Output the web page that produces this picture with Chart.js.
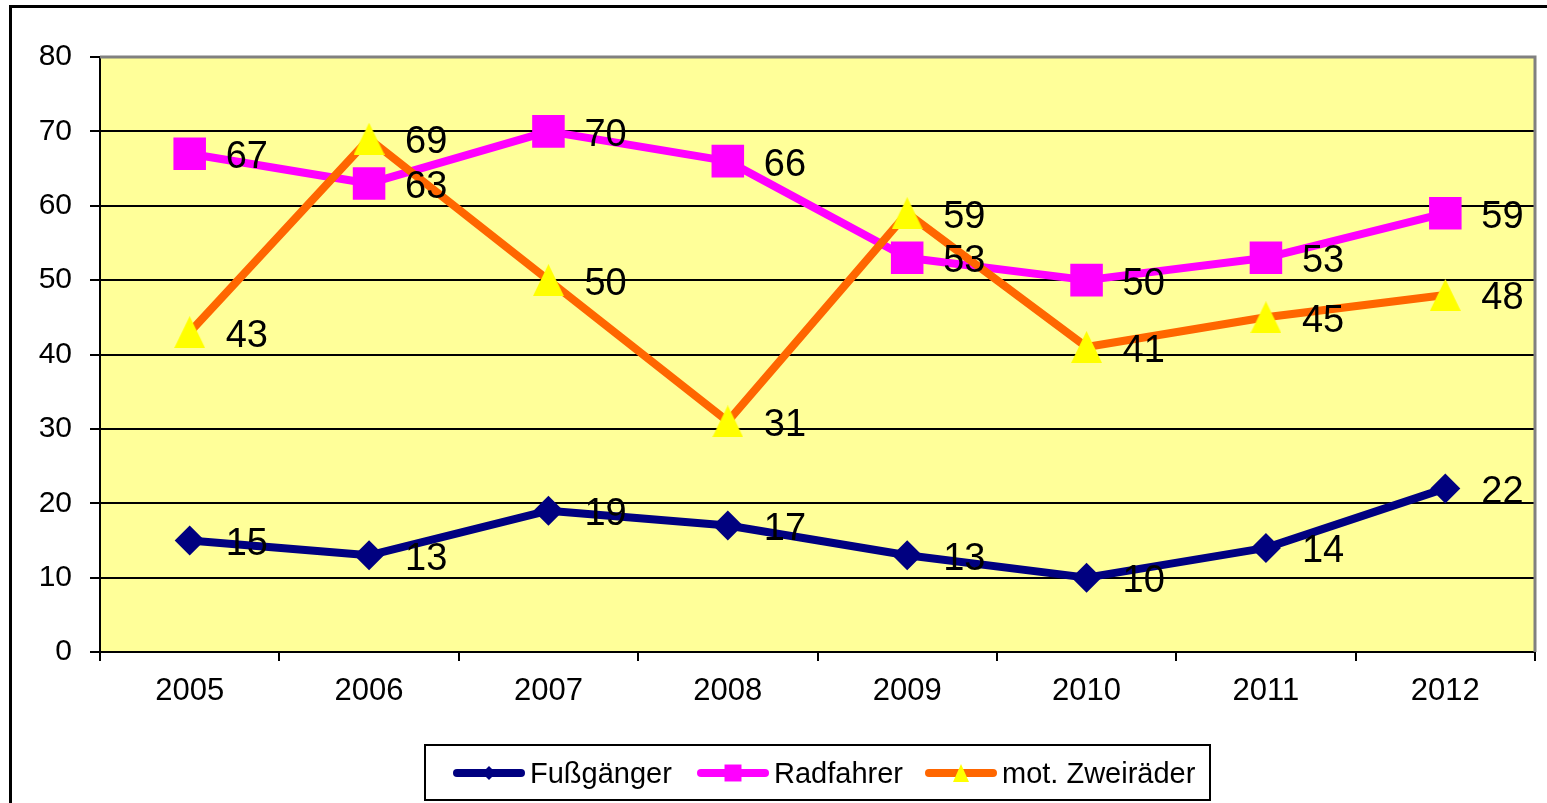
<!DOCTYPE html>
<html>
<head>
<meta charset="utf-8">
<script src="https://cdn.jsdelivr.net/npm/chart.js@4.4.0/dist/chart.umd.min.js"></script>
<style>
  html, body { margin: 0; padding: 0; background: #fff; }
  #wrap { width: 1547px; height: 803px; }
</style>
</head>
<body>
<div id="wrap"><canvas id="unfallChart" width="1547" height="803"></canvas></div>
<script>
const years = ['2005', '2006', '2007', '2008', '2009', '2010', '2011', '2012'];
const fussgaenger = [15, 13, 19, 17, 13, 10, 14, 22];
const radfahrer = [67, 63, 70, 66, 53, 50, 53, 59];
const zweiraeder = [43, 69, 50, 31, 59, 41, 45, 48];
const seriesNames = ['Fußgänger', 'Radfahrer', 'mot. Zweiräder'];

const FONT = '"Liberation Sans", Arial, sans-serif';

// centered triangle marker (Excel style, box centered on the value)
function triangleMarker(w, h, color) {
    const c = document.createElement('canvas');
    c.width = w;
    c.height = h;
    const g = c.getContext('2d');
    g.fillStyle = color;
    g.beginPath();
    g.moveTo(w / 2, 0);
    g.lineTo(w, h);
    g.lineTo(0, h);
    g.closePath();
    g.fill();
    return c;
}

// background, plot area fill and outer frame
const framePlugin = {
    id: 'frame',
    beforeDraw(chart) {
        const { ctx, chartArea: a, width, height } = chart;
        ctx.save();
        ctx.fillStyle = '#fff';
        ctx.fillRect(0, 0, width, height);
        ctx.fillStyle = '#FFFF99';
        ctx.fillRect(a.left, a.top, a.right - a.left, a.bottom - a.top);
        ctx.strokeStyle = '#000';
        ctx.lineWidth = 3;
        ctx.beginPath();
        ctx.moveTo(10.5, height);
        ctx.lineTo(10.5, 6.5);
        ctx.lineTo(width, 6.5);
        ctx.stroke();
        ctx.restore();
    },
    beforeDatasetsDraw(chart) {
        const { ctx, chartArea: a } = chart;
        ctx.save();
        ctx.strokeStyle = '#808080';
        ctx.lineWidth = 3;
        ctx.beginPath();
        ctx.moveTo(a.left, a.top);
        ctx.lineTo(a.right, a.top);
        ctx.lineTo(a.right, a.bottom);
        ctx.stroke();
        ctx.restore();
    },
};

// value labels right of each point
const valueLabels = {
    id: 'valueLabels',
    afterDatasetsDraw(chart) {
        const { ctx } = chart;
        ctx.save();
        ctx.font = '38px ' + FONT;
        ctx.fillStyle = '#000';
        ctx.textAlign = 'left';
        ctx.textBaseline = 'middle';
        chart.data.datasets.forEach((ds, i) => {
            chart.getDatasetMeta(i).data.forEach((pt, j) => {
                ctx.fillText(String(ds.data[j]), pt.x + 36, pt.y + 4);
            });
        });
        ctx.restore();
    },
};

// boxed legend with line + marker samples
const boxLegend = {
    id: 'boxLegend',
    afterDraw(chart) {
        const { ctx } = chart;
        const starts = [453, 697, 925];
        ctx.save();
        ctx.strokeStyle = '#000';
        ctx.lineWidth = 2;
        ctx.strokeRect(425, 745, 785, 55);
        ctx.font = '29px ' + FONT;
        ctx.textBaseline = 'middle';
        ctx.textAlign = 'left';
        seriesNames.forEach((name, k) => {
            const ds = chart.data.datasets.find(d => d.label === name);
            const x0 = starts[k], y = 773;
            ctx.strokeStyle = ds.borderColor;
            ctx.lineWidth = 8;
            ctx.lineCap = 'round';
            ctx.beginPath();
            ctx.moveTo(x0 + 4, y);
            ctx.lineTo(x0 + 68, y);
            ctx.stroke();
            if (Chart.helpers && Chart.helpers.drawPoint) {
                ctx.fillStyle = ds.pointBackgroundColor;
                ctx.strokeStyle = ds.pointBorderColor;
                Chart.helpers.drawPoint(ctx, {
                    pointStyle: ds.legendStyle,
                    radius: ds.legendRadius,
                    rotation: 0,
                    borderWidth: 0,
                }, x0 + 36, y);
            }
            ctx.fillStyle = '#000';
            ctx.fillText(ds.label, x0 + 77, y + 2);
        });
        ctx.restore();
    },
};

new Chart(document.getElementById('unfallChart'), {
    type: 'line',
    data: {
        labels: years,
        datasets: [
            {
                label: seriesNames[0],
                data: fussgaenger,
                borderColor: '#000080',
                borderWidth: 8,
                pointStyle: 'rectRot',
                pointRadius: 15,
                pointBackgroundColor: '#000080',
                pointBorderColor: '#000080',
                pointBorderWidth: 0,
                legendStyle: 'rectRot',
                legendRadius: 7,
                order: 2,
            },
            {
                label: seriesNames[1],
                data: radfahrer,
                borderColor: '#FF00FF',
                borderWidth: 8,
                pointStyle: 'rect',
                pointRadius: 23,
                pointBackgroundColor: '#FF00FF',
                pointBorderColor: '#FF00FF',
                pointBorderWidth: 0,
                legendStyle: 'rect',
                legendRadius: 12,
                order: 1,
            },
            {
                label: seriesNames[2],
                data: zweiraeder,
                borderColor: '#FF6600',
                borderWidth: 8,
                pointStyle: triangleMarker(31, 32, '#FFFF00'),
                pointRadius: 16,
                pointBackgroundColor: '#FFFF00',
                pointBorderColor: '#FFFF00',
                pointBorderWidth: 0,
                legendStyle: triangleMarker(16, 18, '#FFFF00'),
                legendRadius: 9,
                order: 0,
            },
        ],
    },
    options: {
        responsive: false,
        animation: false,
        devicePixelRatio: 1,
        elements: {
            line: { tension: 0, borderJoinStyle: 'round', borderCapStyle: 'round' },
            point: { hoverRadius: 22 },
        },
        layout: {
            autoPadding: false,
            padding: { top: 57, right: 12, bottom: 0, left: 0 },
        },
        plugins: {
            legend: { display: false },
            tooltip: { enabled: false },
        },
        scales: {
            x: {
                offset: true,
                afterFit(scale) {
                    scale.height = 151;
                    scale.paddingLeft = 0;
                    scale.paddingRight = 0;
                },
                grid: {
                    offset: true,
                    drawOnChartArea: false,
                    drawTicks: true,
                    tickLength: 9,
                    color: '#000',
                    lineWidth: 2,
                },
                border: { color: '#000', width: 2 },
                ticks: {
                    font: { family: FONT, size: 31 },
                    color: '#000',
                    padding: 12,
                    maxRotation: 0,
                },
            },
            y: {
                min: 0,
                max: 80,
                afterFit(scale) {
                    scale.width = 100;
                    scale.paddingTop = 0;
                    scale.paddingBottom = 0;
                },
                grid: {
                    color: c => (c.tick && c.tick.value === 80 ? '#808080' : '#000'),
                    tickColor: '#000',
                    lineWidth: 2,
                    tickLength: 10,
                },
                border: { color: '#000', width: 2 },
                ticks: {
                    stepSize: 10,
                    font: { family: FONT, size: 30 },
                    color: '#000',
                    padding: 18,
                },
            },
        },
    },
    plugins: [framePlugin, valueLabels, boxLegend],
});
</script>
</body>
</html>
